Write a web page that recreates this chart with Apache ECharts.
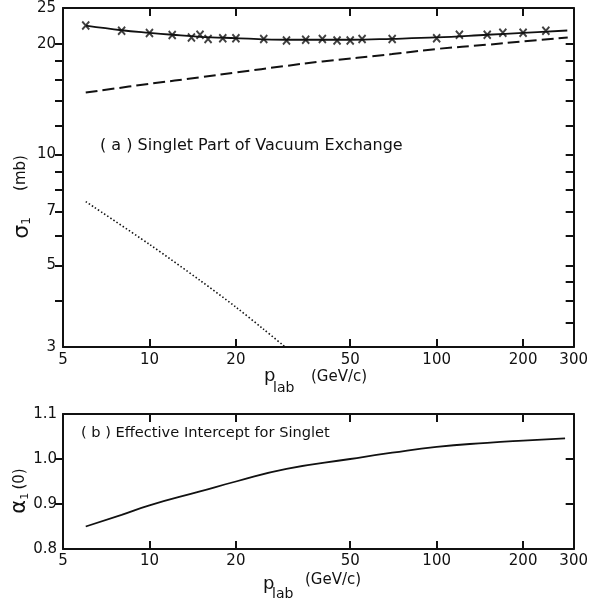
<!DOCTYPE html>
<html>
<head>
<meta charset="utf-8">
<script src="https://cdn.jsdelivr.net/npm/echarts@6/dist/echarts.min.js"></script>
<style>
  html, body { margin: 0; padding: 0; background: #fff; }
  #chart { width: 591px; height: 600px; }
</style>
</head>
<body>
<div id="chart"></div>
<script>
// (a) measured singlet cross section, crosses
const markerP = [6, 8, 10, 12, 14, 15, 16, 18, 20, 25, 30, 35, 40, 45, 50, 55, 70, 100, 120, 150, 170, 200, 240];
const markerSigma = [22.4, 21.7, 21.37, 21.1, 20.8, 21.15, 20.6, 20.7, 20.7, 20.6, 20.4, 20.5, 20.6, 20.4, 20.4, 20.6, 20.6, 20.7, 21.15, 21.15, 21.4, 21.4, 21.7];
// (a) fitted total singlet curve
const curveP = [6, 8, 10, 12, 15, 20, 30, 50, 70, 100, 150, 200, 285];
const curveSigma = [22.38, 21.75, 21.4, 21.15, 20.88, 20.71, 20.5, 20.5, 20.62, 20.8, 21.15, 21.4, 21.72];
// (a) dashed component
const dashP = [6, 10, 15, 20, 30, 40, 70, 100, 150, 200, 286];
const dashSigma = [14.73, 15.56, 16.2, 16.7, 17.41, 17.9, 18.74, 19.35, 19.87, 20.29, 20.8];
// (a) dotted component
const dotP = [6, 10, 15, 20, 25, 29.7];
const dotSigma = [7.45, 5.7, 4.55, 3.85, 3.35, 3.0];
// (b) effective intercept
const alphaP = [6, 8, 10, 15, 20, 30, 50, 70, 100, 150, 200, 280];
const alphaVal = [0.85, 0.876, 0.897, 0.928, 0.95, 0.978, 1.0, 1.014, 1.027, 1.036, 1.041, 1.046];

// tick positions and labels
const xTickVals = [10, 20, 50, 100, 200];
const xLabelVals = [5, 10, 20, 50, 100, 200, 300];
const sigmaTicksLeft = [4, 5, 6, 7, 8, 9, 10, 12, 14, 16, 18, 20];
const sigmaTicksRight = [3.5, 4, 4.5, 5, 6, 7, 8, 9, 10, 12, 14, 16, 18, 20];
const sigmaLabels = [3, 5, 7, 10, 20, 25];
const alphaTicks = [0.9, 1.0];
const alphaLabels = [0.8, 0.9, 1.0, 1.1];

const FONT = 'DejaVu Sans';
const INK = '#111';
const lineStyle = { color: INK, width: 2 };

function pairs(xs, ys) { return xs.map((x, i) => [x, ys[i]]); }

function xAxisDef(gridIndex, position, withLabels, margin) {
  return {
    type: 'log', logBase: 10, min: 5, max: 300, gridIndex, position,
    axisLine: { show: true, onZero: false, lineStyle: lineStyle },
    axisTick: { show: true, inside: true, length: 8, customValues: xTickVals, lineStyle: lineStyle },
    axisLabel: withLabels ? {
      show: true, customValues: xLabelVals, margin: margin,
      fontFamily: FONT, fontSize: 15, color: INK
    } : { show: false },
    splitLine: { show: false }, minorTick: { show: false }
  };
}

const option = {
  animation: false,
  backgroundColor: '#fff',
  grid: [
    { left: 63, top: 8, width: 511, height: 339 },
    { left: 63, top: 414, width: 511, height: 135 }
  ],
  xAxis: [
    xAxisDef(0, 'bottom', true, 6),
    xAxisDef(0, 'top', false),
    xAxisDef(1, 'bottom', true, 5),
    xAxisDef(1, 'top', false)
  ],
  yAxis: [
    {
      type: 'log', logBase: 10, min: 3, max: 25, gridIndex: 0, position: 'left',
      axisLine: { show: true, onZero: false, lineStyle: lineStyle },
      axisTick: { show: true, inside: false, length: 8, customValues: sigmaTicksLeft, lineStyle: lineStyle },
      axisLabel: { show: true, customValues: sigmaLabels, margin: 7, fontFamily: FONT, fontSize: 15, color: INK },
      splitLine: { show: false }
    },
    {
      type: 'log', logBase: 10, min: 3, max: 25, gridIndex: 0, position: 'right',
      axisLine: { show: true, onZero: false, lineStyle: lineStyle },
      axisTick: { show: true, inside: true, length: 8, customValues: sigmaTicksRight, lineStyle: lineStyle },
      axisLabel: { show: false },
      splitLine: { show: false }
    },
    {
      type: 'value', min: 0.8, max: 1.1, gridIndex: 1, position: 'left',
      axisLine: { show: true, onZero: false, lineStyle: lineStyle },
      axisTick: { show: true, inside: false, length: 8, customValues: alphaTicks, lineStyle: lineStyle },
      axisLabel: {
        show: true, customValues: alphaLabels, margin: 6, fontFamily: FONT, fontSize: 15, color: INK,
        formatter: v => Number(v).toFixed(1)
      },
      splitLine: { show: false }
    },
    {
      type: 'value', min: 0.8, max: 1.1, gridIndex: 1, position: 'right',
      axisLine: { show: true, onZero: false, lineStyle: lineStyle },
      axisTick: { show: true, inside: true, length: 8, customValues: alphaTicks, lineStyle: lineStyle },
      axisLabel: { show: false },
      splitLine: { show: false }
    }
  ],
  series: [
    {
      type: 'line', xAxisIndex: 0, yAxisIndex: 0, data: pairs(curveP, curveSigma),
      smooth: 0.4, showSymbol: false, lineStyle: { color: INK, width: 1.8 }
    },
    {
      type: 'scatter', xAxisIndex: 0, yAxisIndex: 0, data: pairs(markerP, markerSigma),
      symbol: 'path://M0,0L10,12M10,0L0,12', symbolSize: [7, 8],
      itemStyle: { color: 'none', borderColor: INK, borderWidth: 2 }
    },
    {
      type: 'line', xAxisIndex: 0, yAxisIndex: 0, data: pairs(dashP, dashSigma),
      smooth: 0.4, showSymbol: false, lineStyle: { color: INK, width: 2, type: [12, 5] }
    },
    {
      type: 'line', xAxisIndex: 0, yAxisIndex: 0, data: pairs(dotP, dotSigma),
      smooth: 0.3, showSymbol: false, lineStyle: { color: INK, width: 1.6, type: [1.5, 2.2] }
    },
    {
      type: 'line', xAxisIndex: 2, yAxisIndex: 2, data: pairs(alphaP, alphaVal),
      smooth: 0.5, showSymbol: false, lineStyle: { color: INK, width: 1.8 }
    }
  ],
  graphic: [
    { type: 'text', x: 100, y: 146, style: { text: '( a ) Singlet Part of Vacuum Exchange', font: '16px "DejaVu Sans"', fill: INK, verticalAlign: 'middle' } },
    { type: 'text', x: 81, y: 433, style: { text: '( b ) Effective Intercept for Singlet', font: '14.6px "DejaVu Sans"', fill: INK, verticalAlign: 'middle' } },
    // top panel axis names
    { type: 'text', x: 22, y: 228, rotation: Math.PI / 2, style: {
        text: '{s|σ}{sub|1}', align: 'center', verticalAlign: 'middle', fill: INK,
        rich: { s: { fontFamily: FONT, fontSize: 22, fill: INK }, sub: { fontFamily: FONT, fontSize: 12, fill: INK, padding: [10, 0, 0, 0] } }
      } },
    { type: 'text', x: 21, y: 173, rotation: Math.PI / 2, style: { text: '(mb)', font: '15px "DejaVu Sans"', fill: INK, align: 'center', verticalAlign: 'middle' } },
    { type: 'text', x: 264, y: 376, style: { text: 'p', font: '18px "DejaVu Sans"', fill: INK, verticalAlign: 'middle' } },
    { type: 'text', x: 273, y: 388, style: { text: 'lab', font: '14px "DejaVu Sans"', fill: INK, verticalAlign: 'middle' } },
    { type: 'text', x: 311, y: 377, style: { text: '(GeV/c)', font: '15px "DejaVu Sans"', fill: INK, verticalAlign: 'middle' } },
    // bottom panel axis names
    { type: 'text', x: 20, y: 491, rotation: Math.PI / 2, style: {
        text: '{s|α}{sub|1} {u|(0)}', align: 'center', verticalAlign: 'middle', fill: INK,
        rich: { s: { fontFamily: FONT, fontSize: 21, fill: INK }, sub: { fontFamily: FONT, fontSize: 11, fill: INK, padding: [10, 0, 0, 0] }, u: { fontFamily: FONT, fontSize: 15, fill: INK } }
      } },
    { type: 'text', x: 263, y: 584, style: { text: 'p', font: '18px "DejaVu Sans"', fill: INK, verticalAlign: 'middle' } },
    { type: 'text', x: 272, y: 594, style: { text: 'lab', font: '14px "DejaVu Sans"', fill: INK, verticalAlign: 'middle' } },
    { type: 'text', x: 305, y: 580, style: { text: '(GeV/c)', font: '15px "DejaVu Sans"', fill: INK, verticalAlign: 'middle' } }
  ]
};

const chart = echarts.init(document.getElementById('chart'), null, { renderer: 'canvas' });
chart.setOption(option);
</script>
</body>
</html>
